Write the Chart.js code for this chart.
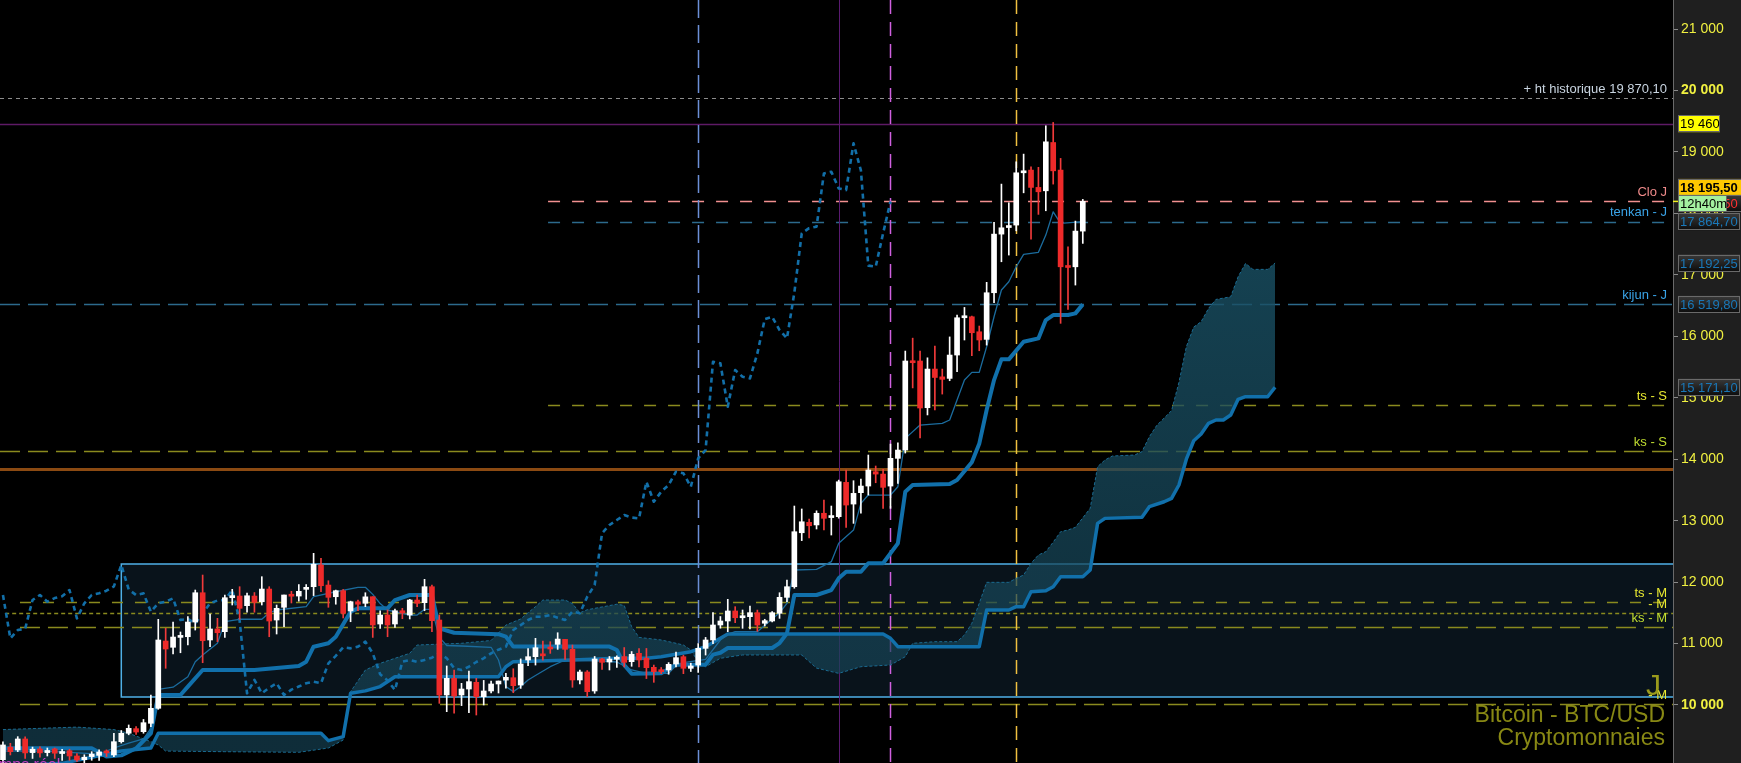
<!DOCTYPE html>
<html>
<head>
<meta charset="utf-8">
<title>Bitcoin - BTC/USD</title>
<script src="https://cdn.jsdelivr.net/npm/chart.js@4.4.1/dist/chart.umd.min.js"></script>
<style>
  html, body { margin: 0; padding: 0; background: #000; overflow: hidden; }
  canvas { display: block; }
</style>
</head>
<body>
<canvas id="chart" width="1741" height="763"></canvas>
<script>
// Daily candles, index 0 = first visible day
const opens = [9110,9315,9268,9447,9225,9285,9225,9285,9210,9256,9170,9110,9160,9180,9250,9187,9403,9540,9615,9566,
  9702,9946,11041,10939,11100,11111,11350,11827,11058,11237,11193,11746,11773,11616,11773,11680,11887,11383,11590,11800,
  11773,11882,11925,12278,11952,11762,11860,11530,11680,11655,11762,11318,11464,11318,11534,11464,11708,11665,11925,11383,
  10163,10434,10163,10260,10369,10135,10228,10342,10405,10444,10325,10732,10786,10820,10938,10987,11068,10906,10407,10537,
  10228,10748,10700,10745,10787,10705,10841,10760,10613,10570,10570,10667,10786,10597,10650,10922,11058,11302,11367,11530,
  11420,11437,11502,11330,11367,11492,11752,11925,12803,12972,12930,13120,13050,13065,13623,13270,13455,13563,13796,13758,
  13563,14014,14149,15600,15598,14838,15467,15340,15315,15695,16302,16318,16074,15950,16709,17663,17770,17810,18661,18705,
  18423,18368,19154,18705,17147,17131,17712];
const highs = [9400,9377,9485,9480,9315,9320,9300,9300,9280,9280,9210,9190,9240,9270,9270,9540,9585,9675,9650,9765,
  10163,11394,11248,11350,11188,11437,11871,12115,11480,11410,11790,11882,11925,11820,11830,12088,11925,11627,11790,11850,
  11960,11960,12468,12387,12022,11870,11880,11690,11708,11827,11762,11534,11546,11562,11573,11720,11790,12045,11952,11465,
  10635,10570,10353,10553,10434,10400,10390,10390,10515,10590,10750,10920,11085,11040,11030,11176,11068,10976,10570,10560,
  10790,10760,10790,10800,10935,10870,10920,10920,10650,10610,10690,10862,10810,10680,11000,11100,11502,11440,11720,11600,
  11546,11611,11545,11395,11520,11827,12034,13238,13190,13026,13160,13335,13238,13660,13824,13650,13677,14068,13889,13835,
  14246,14268,15760,15970,15760,15650,15840,15467,15990,16345,16470,16330,16167,16878,17854,18477,18173,18840,18965,18760,
  18750,19426,19480,18895,17457,17875,18228];
const lows = [9060,9187,9240,9130,9130,9150,9170,9130,9100,9100,9080,9050,9100,9100,9160,9160,9380,9515,9520,9540,
  9647,9930,10597,10830,10850,10976,11220,10688,10948,11030,11100,11627,11394,11510,11510,11627,11111,11155,11274,11660,
  11690,11720,11780,11843,11590,11640,11416,11355,11534,11600,11100,11248,11111,11264,11404,11400,11600,11534,11193,10027,
  9891,9865,9990,9875,9837,10000,10195,10195,10275,10200,10270,10640,10650,10730,10840,10905,10743,10288,10343,10136,
  10190,10580,10570,10610,10620,10630,10620,10430,10369,10510,10500,10620,10510,10545,10530,10813,11000,11250,11193,11340,
  11248,11237,11200,11285,11350,11410,11680,11900,12675,12720,12864,12848,12766,13040,12890,12956,13120,13417,13617,13200,
  13200,13607,14100,15160,14345,14720,14800,15060,15277,15423,15940,15683,15765,15857,16546,17213,17322,17717,18335,17580,
  17984,18043,18477,16211,16438,16834,17512];
const closes = [9350,9240,9447,9220,9280,9220,9260,9215,9225,9170,9105,9150,9200,9235,9220,9403,9540,9620,9560,9712,
  9946,11058,10911,11106,11110,11350,11827,11046,11237,11176,11746,11780,11573,11778,11670,11887,11367,11573,11790,11770,
  11850,11915,12290,11941,11752,11860,11492,11680,11640,11760,11302,11464,11302,11534,11497,11708,11655,11925,11372,10163,
  10434,10146,10260,10380,10135,10228,10342,10390,10450,10314,10667,10786,10932,10800,10911,11073,10906,10407,10537,10217,
  10748,10694,10748,10755,10694,10825,10732,10607,10542,10542,10662,10770,10597,10635,10922,11058,11302,11367,11530,11420,
  11430,11502,11302,11372,11502,11752,11925,12820,12982,12917,13120,13038,13065,13633,13254,13444,13563,13824,13758,13542,
  14014,14149,15598,15570,14833,15467,15330,15300,15695,16302,16318,16058,15940,16709,17663,17766,17800,18661,18690,18423,
  18352,19165,18693,17131,17120,17712,18195.5];

// Ichimoku lines: [day index, price]
const tenkanPoints = [[0,9250],[6,9250],[9,9230],[13,9200],[15,9300],[17,9380],[19,9450],[20,9620],[21,10255],[23,10290],
  [25,10460],[26,10705],[27,10814],[29,11004],[30,11355],[32,11395],[35,11395],[36,11500],[37,11546],[41,11600],[42,11762],
  [45,11843],[48,11915],[49,11915],[50,11800],[51,11650],[52,11546],[55,11464],[56,11464],[57,11557],[58,11557],[59,11100],
  [60,10968],[62,10960],[66,10939],[67,10732],[68,10300],[69,10217],[70,10300],[71,10407],[72,10480],[74,10623],[76,10732],
  [80,10720],[83,10700],[85,10570],[87,10515],[90,10515],[91,10640],[92,10690],[95,10743],[96,10900],[97,11058],[98,11150],
  [99,11193],[102,11193],[104,11400],[105,11500],[106,11655],[107,12197],[110,12208],[112,12332],[113,12631],[115,12847],
  [116,13282],[117,13417],[120,13417],[121,13552],[122,14339],[124,14556],[127,14584],[128,14638],[129,14963],[130,15288],
  [131,15413],[132,15413],[133,15830],[134,16318],[135,16753],[136,16888],[137,17132],[138,17333],[140,17366],[141,17647],
  [142,18026],[143,17838],[146,17864.7]];
const kijunPoints = [[0,9295],[12,9295],[14,9160],[16,9180],[18,9295],[20,9540],[21,10163],[24,10163],[25,10298],[27,10569],
  [34,10569],[40,10635],[41,10705],[42,10949],[44,11004],[45,11111],[47,11518],[48,11573],[52,11573],[53,11708],[55,11790],
  [58,11790],[59,11247],[61,11176],[67,11152],[68,11112],[69,10950],[82,10950],[83,10895],[84,10651],[85,10510],[89,10515],
  [90,10588],[91,10656],[95,10656],[96,10819],[97,10850],[98,10928],[104,10928],[105,11008],[106,11166],[107,11790],
  [110,11790],[112,11871],[113,12061],[114,12169],[116,12169],[117,12306],[119,12306],[121,12631],[122,13471],[123,13580],
  [128,13596],[129,13661],[131,13950],[132,14250],[133,14800],[134,15288],[135,15625],[136,15625],[138,15912],[140,15966],
  [141,16264],[142,16346],[144,16346],[145,16373],[146,16519.8]];
const chikouPoints = [[0,11790],[1,11085],[2,11220],[3,11240],[4,11708],[5,11790],[6,11681],[7,11740],[8,11770],[9,11871],
  [10,11410],[11,11655],[12,11790],[13,11817],[14,11860],[15,11930],[16,12278],[17,11880],[18,11790],[19,11817],[20,11518],
  [21,11655],[22,11680],[23,11736],[24,11383],[25,11400],[26,11329],[27,11492],[28,11655],[29,11700],[30,11708],[31,11871],
  [32,11372],[33,10190],[34,10407],[35,10190],[36,10280],[37,10353],[38,10163],[39,10250],[40,10300],[41,10353],[42,10380],
  [43,10353],[44,10678],[45,10800],[46,10938],[47,10922],[48,10950],[49,11030],[50,10841],[51,10500],[52,10400],[53,10244],
  [54,10705],[55,10732],[56,10700],[57,10732],[58,10770],[59,10841],[60,10760],[61,10600],[62,10569],[63,10623],[64,10700],
  [65,10760],[66,10841],[67,10900],[68,10949],[69,11220],[70,11300],[71,11383],[72,11437],[73,11437],[74,11464],[75,11420],
  [76,11383],[77,11520],[78,11492],[79,11762],[80,11952],[81,12793],[82,12929],[83,13010],[84,13091],[85,13050],[86,13037],
  [87,13633],[88,13308],[89,13471],[90,13580],[91,13796],[92,13770],[93,13552],[94,14014],[95,14149],[96,15586],[97,15560],
  [98,14855],[99,15451],[100,15342],[101,15315],[102,15722],[103,16280],[104,16318],[105,16102],[106,15966],[107,16709],
  [108,17675],[109,17760],[110,17784],[111,18651],[112,18678],[113,18407],[114,18380],[115,19140],[116,18700],[117,17150],
  [118,17132],[119,17675],[120,18195]];
const senkouAPoints = [[0,9600],[5,9620],[10,9640],[15,9600],[17,9540],[20,9403],[21,9349],[22,9250],[30,9240],[40,9230],
  [44,9300],[46,9430],[47,10217],[49,10569],[51,10678],[53,10760],[55,10841],[56,10976],[62,11004],[66,11050],[68,11300],
  [70,11400],[72,11600],[73,11708],[76,11708],[77,11650],[78,11500],[79,11550],[83,11640],[84,11620],[85,11274],[86,11100],
  [89,11058],[91,11004],[92,10976],[93,10895],[94,10700],[95,10623],[97,10760],[100,10814],[108,10814],[110,10600],[113,10515],
  [116,10623],[120,10651],[122,10786],[123,11004],[126,11030],[129,11030],[130,11139],[131,11329],[132,11655],[133,11996],
  [136,11996],[137,12061],[138,12115],[139,12306],[140,12441],[141,12495],[142,12650],[143,12820],[144,12848],[145,12891],
  [147,13200],[148,13878],[149,13987],[150,14052],[153,14068],[154,14122],[155,14366],[156,14550],[158,14790],[159,15250],
  [160,15830],[161,16150],[162,16237],[163,16454],[164,16600],[166,16643],[167,16969],[168,17186],[169,17089],[171,17089],
  [172,17192.25]];
const senkouBPoints = [[0,9000],[8,9050],[12,9150],[16,9250],[20,9300],[21,9540],[43,9540],[44,9420],[46,9485],[47,10190],
  [49,10230],[51,10300],[53,10460],[67,10460],[68,10623],[69,10705],[77,10732],[83,10760],[87,10760],[89,10786],[93,10867],
  [95,10949],[98,11155],[119,11155],[120,11085],[121,10949],[132,10949],[133,11546],[136,11546],[137,11600],[138,11600],
  [139,11843],[141,11860],[142,11925],[143,12088],[146,12088],[147,12197],[148,12956],[149,13037],[154,13054],[155,13227],
  [157,13308],[158,13363],[159,13580],[160,14000],[161,14300],[162,14409],[163,14584],[164,14638],[165,14638],[166,14719],
  [167,14975],[168,15017],[171,15017],[172,15171.1]];

// Horizontal levels, their labels and the day index where each begins
const levelValues = [19870.10, 19460, 18195.50, 17864.70, 16519.80, 14882, 14133, 13840, 11676, 11492, 11269, 10016];
const levelLabels = ['+ ht historique 19 870,10', '', 'Clo J', 'tenkan - J', 'kijun - J', 'ts - S', 'ks - S', '',
  'ts - M', '- M', 'ks - M', '- M'];
const levelStarts = [-1, -1, 73.7, 73.7, -1, 73.7, -1, -1, 2.3, 0.3, 2.3, 2.3];

// Vertical markers (day index)
const markerIndexes = [94, 113, 120, 137];

// Trading range rectangle
const rangeBox = { start: 16, top: 12295, bottom: 10130 };

const yTicks = [10000, 11000, 12000, 13000, 14000, 15000, 16000, 17000, 18000, 19000, 20000, 21000];

// Price tags on the right axis
const tagValues = [19460, 18195.50, 18195.50, 18195.50, 17864.70, 17192.25, 16519.80, 15171.10];
const tagTexts = ['19 460', '18 195,50', '18 195,50', '12h40m', '17 864,70', '17 192,25', '16 519,80', '15 171,10'];

const FONT = "'Liberation Sans', Arial, sans-serif";
const BLUE = '#1170ab';

const levelStyles = [
  { color: '#8c8c8c', dash: [4, 4], width: 1, text: '#c8d4e0' },
  { color: '#5e1a66', dash: [], width: 1.5 },
  { color: '#f29090', dash: [12, 12], width: 1.5, text: '#f08a8a' },
  { color: '#2c6a8c', dash: [12, 12], width: 1.5, text: '#3aa4e8' },
  { color: '#2c6a8c', dash: [20, 8], width: 1.5, text: '#3aa4e8' },
  { color: '#8a8a1e', dash: [12, 12], width: 1.5, text: '#e8e830' },
  { color: '#8a8a1e', dash: [20, 8], width: 1.5, text: '#c0dc30' },
  { color: '#8b4a12', dash: [], width: 3 },
  { color: '#8a8a1e', dash: [11, 12], width: 1.5, text: '#e8e830' },
  { color: '#8a8a1e', dash: [4, 3], width: 1.5, text: '#e8e830' },
  { color: '#8a8a1e', dash: [20, 8], width: 1.5, text: '#c0dc30' },
  { color: '#8a8a1e', dash: [20, 8], width: 1.5, text: '#e8e830' }
];

const markerStyles = [
  { color: '#6b8fd6', dash: [18, 7], width: 1.5 },
  { color: '#5a1a70', dash: [], width: 1 },
  { color: '#d060e0', dash: [14, 8], width: 1.5 },
  { color: '#f0c040', dash: [14, 8], width: 1.5 }
];

const tagStyles = [
  { bg: '#ffff00', fg: '#000', w: 42, dy: 0 },
  { bg: '#ffc800', fg: '#000', w: 70, dy: -14, bold: true },
  { bg: 'dark', fg: '#ff3030', w: 64, dy: 2 },
  { bg: '#a4f0a0', fg: '#000', w: 49, dy: 2 },
  { bg: 'dark', fg: '#1a78b8', w: 62, dy: 0 },
  { bg: 'dark', fg: '#1a78b8', w: 62, dy: 0 },
  { bg: 'dark', fg: '#1a78b8', w: 62, dy: 0 },
  { bg: 'dark', fg: '#1a78b8', w: 62, dy: 0 }
];

function spaced(v) {
  return String(v).replace(/\B(?=(\d{3})+(?!\d))/g, ' ');
}

const days = opens.map((_, i) => i);
const upDays = days.filter(i => closes[i] >= opens[i]);
const downDays = days.filter(i => closes[i] < opens[i]);
const toXY = pts => pts.map(([x, y]) => ({ x, y }));

function barSet(list, lo, hi, color, thickness, minLen) {
  return {
    type: 'bar',
    data: list.map(i => ({ x: i, y: [lo(i), hi(i)] })),
    backgroundColor: color,
    borderWidth: 0,
    barThickness: thickness,
    minBarLength: minLen,
    grouped: false
  };
}

function lineSet(pts, color, width, dash) {
  return {
    type: 'line',
    data: toXY(pts),
    borderColor: color,
    borderWidth: width,
    borderDash: dash,
    pointRadius: 0,
    tension: 0,
    fill: false,
    borderJoinStyle: 'round'
  };
}

// cloud colour: a little lighter near the top of the chart
const canvas = document.getElementById('chart');
const cloudFill = canvas.getContext('2d').createLinearGradient(0, 220, 0, 720);
cloudFill.addColorStop(0, 'rgba(26, 82, 102, 0.82)');
cloudFill.addColorStop(1, 'rgba(22, 66, 84, 0.68)');

const datasets = [
  barSet(upDays, i => opens[i], i => closes[i], '#ffffff', 5, 2),
  barSet(downDays, i => closes[i], i => opens[i], '#ee2a2a', 5, 2),
  barSet(upDays, i => lows[i], i => highs[i], '#ffffff', 1, 0),
  barSet(downDays, i => lows[i], i => highs[i], '#f03a3a', 1, 0),
  lineSet(tenkanPoints, '#1b6c9e', 1.3, []),
  lineSet(kijunPoints, BLUE, 4, []),
  lineSet(chikouPoints, '#126fa8', 2.6, [5, 4]),
  lineSet(senkouBPoints, BLUE, 3.5, []),
  Object.assign(lineSet(senkouAPoints, '#1a6a90', 1, [3, 2]), {
    fill: { target: 7, above: cloudFill, below: cloudFill }
  })
];

function drawTag(ctx, x, y, w, text, st) {
  const h = 17;
  let fill = st.bg;
  if (st.bg === 'dark') {
    fill = ctx.createLinearGradient(0, y - h / 2, 0, y + h / 2);
    fill.addColorStop(0, '#3a3a3a');
    fill.addColorStop(1, '#0c0c0c');
  }
  ctx.fillStyle = fill;
  ctx.fillRect(x, y - h / 2, w, h);
  ctx.strokeStyle = '#6a6a6a';
  ctx.lineWidth = 1;
  ctx.strokeRect(x + 0.5, Math.round(y - h / 2) + 0.5, w - 1, h - 1);
  ctx.fillStyle = st.fg;
  ctx.font = (st.bold ? 'bold ' : '') + '13px ' + FONT;
  ctx.textAlign = 'left';
  ctx.textBaseline = 'middle';
  ctx.fillText(text, x + 2, y + 1);
}

const decorations = {
  id: 'decorations',
  beforeDraw(chart) {
    const { ctx, chartArea: a, width, height } = chart;
    ctx.save();
    ctx.fillStyle = '#000';
    ctx.fillRect(0, 0, width, height);
    ctx.fillStyle = '#1f1f1f';
    ctx.fillRect(a.right, 0, width - a.right, height);
    ctx.restore();
  },
  beforeDatasetsDraw(chart) {
    const { ctx, chartArea: a, scales: { x, y } } = chart;
    ctx.save();
    ctx.beginPath();
    ctx.rect(a.left, a.top, a.right - a.left, a.bottom - a.top);
    ctx.clip();

    // range rectangle
    const bx = x.getPixelForValue(rangeBox.start);
    const bt = y.getPixelForValue(rangeBox.top);
    const bb = y.getPixelForValue(rangeBox.bottom);
    ctx.fillStyle = '#09131b';
    ctx.fillRect(bx, bt, a.right - bx, bb - bt);
    ctx.strokeStyle = '#4fb0e8';
    ctx.lineWidth = 1.5;
    ctx.beginPath();
    ctx.moveTo(a.right, bt);
    ctx.lineTo(bx, bt);
    ctx.lineTo(bx, bb);
    ctx.lineTo(a.right, bb);
    ctx.stroke();

    // horizontal levels
    levelValues.forEach((v, k) => {
      const st = levelStyles[k];
      const py = Math.round(y.getPixelForValue(v)) + (st.width % 2 ? 0.5 : 0);
      const x0 = Math.max(a.left, x.getPixelForValue(levelStarts[k]));
      ctx.strokeStyle = st.color;
      ctx.lineWidth = st.width;
      ctx.setLineDash(st.dash);
      ctx.beginPath();
      ctx.moveTo(x0, py);
      ctx.lineTo(a.right, py);
      ctx.stroke();
    });

    // vertical markers
    markerIndexes.forEach((d, k) => {
      const st = markerStyles[k];
      const px = Math.round(x.getPixelForValue(d)) + 0.5;
      ctx.strokeStyle = st.color;
      ctx.lineWidth = st.width;
      ctx.setLineDash(st.dash);
      ctx.beginPath();
      ctx.moveTo(px, a.top);
      ctx.lineTo(px, a.bottom);
      ctx.stroke();
    });
    ctx.restore();
  },
  afterDatasetsDraw(chart) {
    const { ctx, chartArea: a, scales: { y } } = chart;
    ctx.save();
    ctx.font = '13px ' + FONT;
    ctx.textAlign = 'right';
    ctx.textBaseline = 'middle';
    levelValues.forEach((v, k) => {
      if (!levelLabels[k]) return;
      ctx.fillStyle = levelStyles[k].text;
      ctx.fillText(levelLabels[k], a.right - 6, y.getPixelForValue(v) - 9);
    });
    // big J marker near the bottom level
    ctx.fillStyle = '#9a9a1c';
    ctx.font = '30px ' + FONT;
    ctx.fillText('J', a.right - 12, y.getPixelForValue(10016) - 17);

    // instrument caption
    ctx.fillStyle = '#888814';
    ctx.font = '23px ' + FONT;
    ctx.fillText('Bitcoin - BTC/USD', a.right - 8, 716);
    ctx.fillText('Cryptomonnaies', a.right - 8, 739);

    ctx.fillStyle = '#c43cc4';
    ctx.font = '16px ' + FONT;
    ctx.textAlign = 'left';
    ctx.textBaseline = 'alphabetic';
    ctx.fillText('Temps réel', -18, 770);
    ctx.restore();
  },
  afterDraw(chart) {
    const { ctx, chartArea: a, scales: { y } } = chart;
    ctx.save();
    // small yellow tick for the current close
    ctx.strokeStyle = '#f0f020';
    ctx.lineWidth = 1.5;
    ctx.beginPath();
    ctx.moveTo(a.right, y.getPixelForValue(18195.5));
    ctx.lineTo(a.right + 5, y.getPixelForValue(18195.5));
    ctx.stroke();
    tagValues.forEach((v, k) => {
      const st = tagStyles[k];
      drawTag(ctx, a.right + 5, y.getPixelForValue(v) + st.dy, st.w, tagTexts[k], st);
    });
    ctx.restore();
  }
};

new Chart(canvas, {
  type: 'line',
  data: { datasets },
  plugins: [decorations],
  options: {
    responsive: false,
    animation: false,
    devicePixelRatio: 1,
    layout: { padding: 0 },
    plugins: { legend: { display: false }, tooltip: { enabled: false } },
    scales: {
      x: { type: 'linear', min: -0.4, max: 225.8, offset: false, display: false },
      y: {
        type: 'linear',
        position: 'right',
        min: 9056,
        max: 21473,
        afterFit(scale) {
          scale.width = 68;
          scale.paddingTop = 0;
          scale.paddingBottom = 0;
        },
        afterBuildTicks(scale) {
          scale.ticks = yTicks.map(v => ({ value: v }));
        },
        border: { color: '#6a6a6a' },
        grid: { drawOnChartArea: false, color: '#8a8a8a', tickLength: 5 },
        ticks: {
          autoSkip: false,
          padding: 3,
          color: '#f0f040',
          font: ctx => ({ family: FONT, size: 14, weight: ctx.tick && ctx.tick.value % 10000 === 0 ? 'bold' : 'normal' }),
          callback: v => spaced(v)
        }
      }
    }
  }
});
</script>
</body>
</html>
